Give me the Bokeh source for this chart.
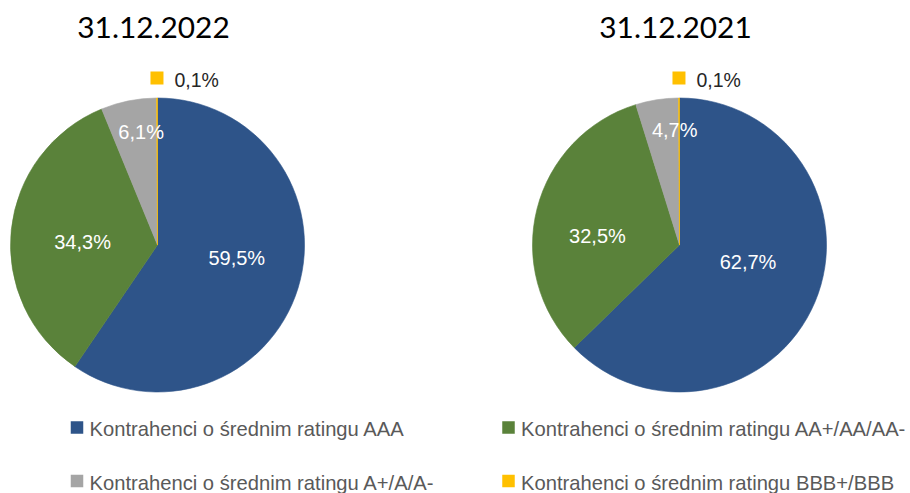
import math
from bokeh.plotting import figure
from bokeh.models import Range1d, ColumnDataSource
from bokeh.core.properties import value
from bokeh.embed import file_html
from bokeh.resources import INLINE

# ---------------- data ----------------
dates = ["31.12.2022", "31.12.2021"]
categories = [
    "Kontrahenci o średnim ratingu AAA",
    "Kontrahenci o średnim ratingu AA+/AA/AA-",
    "Kontrahenci o średnim ratingu A+/A/A-",
    "Kontrahenci o średnim ratingu BBB+/BBB",
]
values_2022 = [59.5, 34.3, 6.1, 0.1]
values_2021 = [62.7, 32.5, 4.7, 0.1]

# ---------------- style ----------------
colors = ["#2E5489", "#5A823A", "#A5A5A5", "#FFC000"]
LABEL_FONT = "Liberation Sans"
LEGEND_FONT = "Liberation Sans"
TITLE_FONT = "Lato"

W, H = 910, 493


def Y(py):
    # page pixel row -> data y
    return H - py


p = figure(width=W, height=H, output_backend="svg", toolbar_location=None,
           x_range=Range1d(0, W), y_range=Range1d(0, H),
           min_border=0, background_fill_color="white",
           border_fill_color="white")
p.axis.visible = False
p.grid.visible = False
p.outline_line_color = None

pie_centers = [(157, 244.5), (679, 244.5)]
R = 147
LABEL_SIZE = 20
OUT_SIZE = 19.5
# radial placement of inside labels (fraction of radius) per slice
label_frac = [0.55, 0.55, 0.79]
# small pixel nudges (dx right, dy down) of inside labels per pie
label_nudge = [
    [(2, -11), (5.5, 5), (6.5, 1)],
    [(-6, -14), (-3.7, 11), (13, 0)],
]


def fmt(v):
    return f"{v:.1f}".replace(".", ",") + "%"


for k, (vals, date) in enumerate(zip([values_2022, values_2021], dates)):
    cx, cy = pie_centers[k]
    total = sum(vals)
    starts, ends, mids = [], [], []
    c = 0.0
    for v in vals:
        c0 = c / total
        c += v
        c1 = c / total
        starts.append(math.radians(90 - 360 * c1))
        ends.append(math.radians(90 - 360 * c0))
        mids.append(math.radians(90 - 360 * (c0 + c1) / 2))
    src = ColumnDataSource(dict(start=starts, end=ends, color=colors))
    p.wedge(x=cx, y=Y(cy), radius=R, start_angle="start", end_angle="end",
            direction="anticlock", fill_color="color", line_color="color",
            line_width=0.6, source=src)

    # title
    p.text(x=[cx - 4], y=[Y(27)], text=[date], text_font=value(TITLE_FONT),
           text_font_size="29.8px", text_color="#000000", text_align="center",
           text_baseline="middle")

    # labels
    in_x, in_y, in_t = [], [], []
    for i, v in enumerate(vals):
        if v >= 1:
            rr = label_frac[i] * R
            dx, dy = label_nudge[k][i]
            lx = cx + rr * math.cos(mids[i]) + dx
            ly_page = cy - rr * math.sin(mids[i]) + dy
            in_x.append(lx)
            in_y.append(Y(ly_page))
            in_t.append(fmt(v))
        else:
            ro = R + 20
            mx = cx + ro * math.cos(mids[i])
            my_page = cy - ro * math.sin(mids[i])
            p.rect(x=[mx], y=[Y(my_page)], width=13, height=13,
                   fill_color=colors[i], line_color=None)
            p.text(x=[mx + 17.5], y=[Y(my_page + 1.5)], text=[fmt(v)],
                   text_font=value(LABEL_FONT), text_font_size=f"{OUT_SIZE}px",
                   text_color="#262626", text_align="left",
                   text_baseline="middle")
    p.text(x=in_x, y=in_y, text=in_t, text_font=value(LABEL_FONT),
           text_font_size=f"{LABEL_SIZE}px", text_color="white",
           text_align="center", text_baseline="middle")

# legend (2 x 2)
leg_cols = [76.5, 508]
leg_rows = [427, 480.5]
for i, cat in enumerate(categories):
    col = i % 2
    row = i // 2
    mx = leg_cols[col]
    my = leg_rows[row]
    p.rect(x=[mx], y=[Y(my)], width=12.5, height=12.5, fill_color=colors[i],
           line_color=None)
    p.text(x=[mx + 12.5], y=[Y(my + 1.5)], text=[cat], text_font=value(LEGEND_FONT),
           text_font_size="20.2px", text_color="#595959", text_align="left",
           text_baseline="middle")

open("out.html", "w").write(file_html(p, INLINE))
